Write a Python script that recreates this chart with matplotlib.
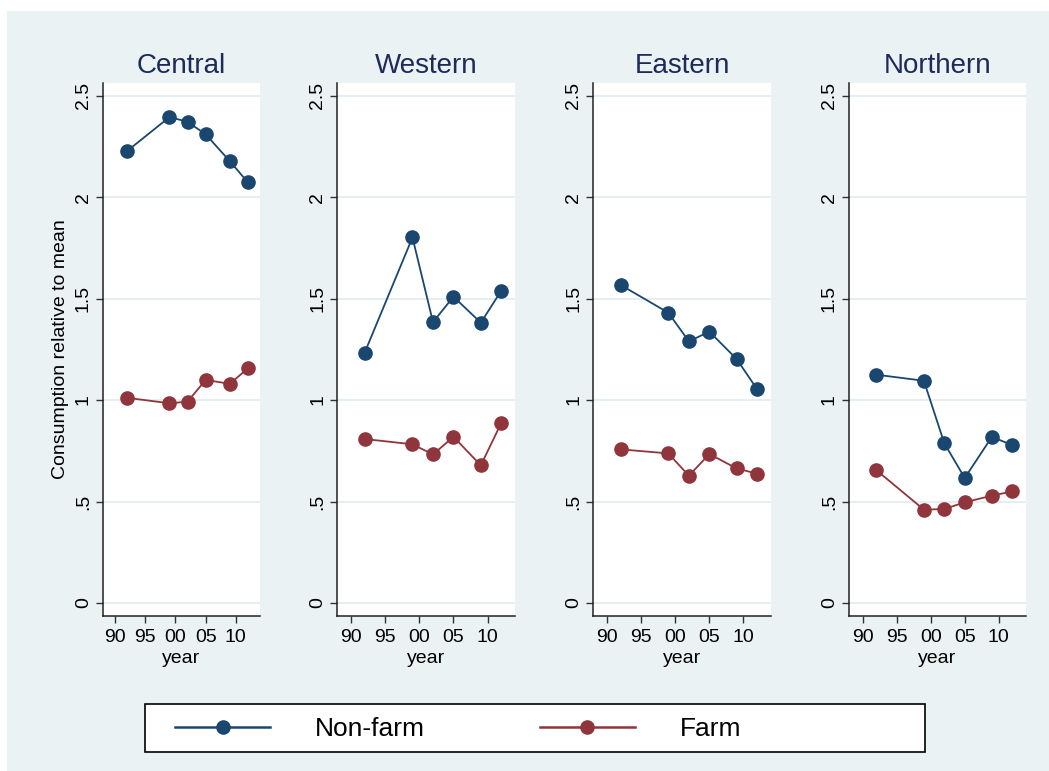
import matplotlib
matplotlib.use("Agg")
import matplotlib.pyplot as plt
from matplotlib.patches import Rectangle

plt.rcParams['font.family'] = ['Liberation Sans', 'DejaVu Sans']

years = [1992, 1999, 2002, 2005, 2009, 2012]
regions = ["Central", "Western", "Eastern", "Northern"]

nonfarm = {
    "Central": [2.227, 2.394, 2.371, 2.309, 2.177, 2.072],
    "Western": [1.233, 1.801, 1.384, 1.509, 1.381, 1.539],
    "Eastern": [1.567, 1.430, 1.289, 1.337, 1.202, 1.053],
    "Northern": [1.125, 1.095, 0.787, 0.616, 0.819, 0.777],
}
farm = {
    "Central": [1.011, 0.984, 0.992, 1.099, 1.080, 1.156],
    "Western": [0.808, 0.782, 0.732, 0.819, 0.678, 0.888],
    "Eastern": [0.757, 0.737, 0.627, 0.734, 0.663, 0.637],
    "Northern": [0.655, 0.460, 0.463, 0.496, 0.529, 0.550],
}

x_ticks = [1990, 1995, 2000, 2005, 2010]
x_labels = ["90", "95", "00", "05", "10"]
y_ticks = [0, 0.5, 1, 1.5, 2, 2.5]
y_labels = ["0", ".5", "1", "1.5", "2", "2.5"]

NAVY = "#1a476f"
MAROON = "#90353b"
BG = "#eaf2f3"
TITLE_C = "#1c2b5a"

W, H = 1049, 771
fig = plt.figure(figsize=(W / 100, H / 100), dpi=100)
fig.patch.set_facecolor("white")
fig.patches.append(Rectangle((7 / W, 0), 1 - 7 / W, 1 - 11 / H,
                             transform=fig.transFigure, facecolor=BG,
                             edgecolor="none", zorder=-10))

# panel left edges and widths in pixels
lefts = [103, 337.3, 593.3, 849]
widths = [157, 177.7, 177.5, 177]
top, bottom = 83, 616

for i, reg in enumerate(regions):
    ax = fig.add_axes([lefts[i] / W, 1 - bottom / H, widths[i] / W, (bottom - top) / H])
    ax.set_facecolor("white")
    for y in y_ticks:
        ax.axhline(y, color="#e4edf0", lw=1.3, zorder=0)
    ax.plot(years, nonfarm[reg], color=NAVY, lw=1.3, marker="o", ms=9.5,
            mfc=NAVY, mec=NAVY, zorder=3)
    ax.plot(years, farm[reg], color=MAROON, lw=1.3, marker="o", ms=9.5,
            mfc=MAROON, mec=MAROON, zorder=3)
    ax.set_xlim(1988, 2014)
    ax.set_ylim(-0.064, 2.562)
    ax.set_xticks(x_ticks)
    ax.set_xticklabels(x_labels)
    ax.set_yticks(y_ticks)
    ax.set_yticklabels(y_labels, rotation=90, va="center")
    ax.tick_params(axis="both", labelsize=14, length=5, width=1, color="#333333", pad=3)
    ax.tick_params(axis="x", pad=4.5)
    for s in ["top", "right"]:
        ax.spines[s].set_visible(False)
    for s in ["left", "bottom"]:
        ax.spines[s].set_color("#222222")
        ax.spines[s].set_linewidth(1.1)
    ax.set_xlabel("year", fontsize=14, labelpad=3)
    ax.set_title(reg, fontsize=20, color=TITLE_C, pad=7)
    if i == 0:
        ax.set_ylabel("Consumption relative to mean", fontsize=14, labelpad=4)

# legend box
fig.patches.append(Rectangle((145 / W, 1 - 752 / H), 780 / W, 48 / H,
                             transform=fig.transFigure, facecolor="white",
                             edgecolor="black", lw=1.2, zorder=1))
h1, = fig.axes[0].plot([], [], color=NAVY, lw=1.8, marker="o", ms=9.5)
h2, = fig.axes[0].plot([], [], color=MAROON, lw=1.8, marker="o", ms=9.5)
leg = fig.legend([h1, h2], ["Non-farm", "Farm"], loc="center left",
                 bbox_to_anchor=(175 / W, 1 - 729 / H), ncol=2, frameon=False,
                 fontsize=19, handlelength=3.6, handletextpad=1.7,
                 columnspacing=4.35, borderpad=0, borderaxespad=0)
leg.set_zorder(5)

fig.savefig("out.png", dpi=100)
